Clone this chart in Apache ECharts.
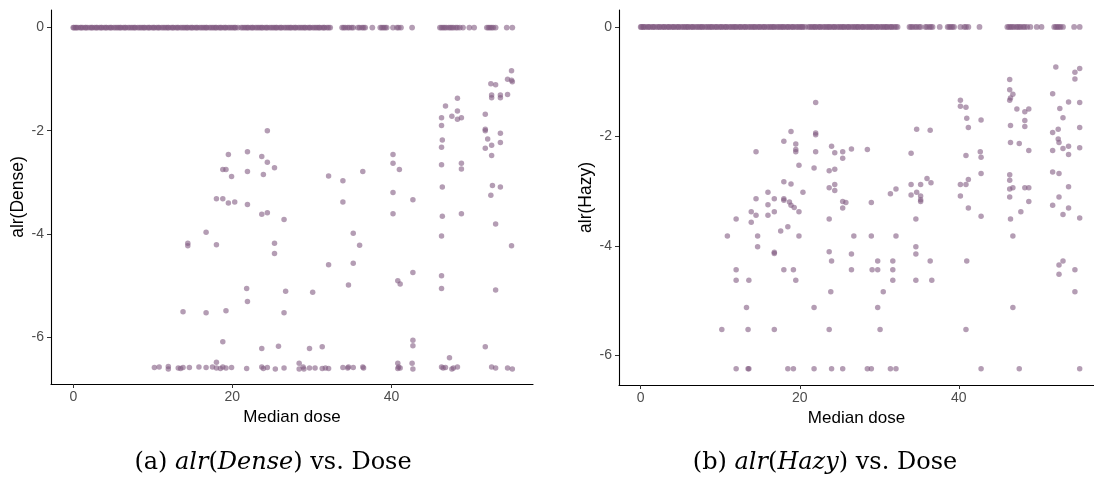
<!DOCTYPE html>
<html><head><meta charset="utf-8">
<script src="https://cdn.jsdelivr.net/npm/echarts@6/dist/echarts.min.js"></script>
<style>html,body{margin:0;padding:0;background:#fff}#c{width:1094px;height:477px}</style>
</head><body><div id="c"></div>
<script>
// Doses of observations with alr = 0 (same in both panels)
const zeroDose = [0,0.1,0.3,0.4,0.6,0.9,1.0,1.2,1.5,1.6,1.8,2.1,2.3,2.4,2.7,2.9,3.0,3.3,3.5,3.6,3.9,4.1,4.2,4.5,4.7,4.8,5.1,5.3,5.5,5.7,5.9,6.0,6.3,6.5,6.6,6.9,7.1,7.3,7.5,7.7,7.8,8.1,8.3,8.5,8.7,8.9,9.0,9.3,9.5,9.6,9.9,10.1,10.2,10.5,10.7,10.8,11.1,11.3,11.5,11.7,11.9,12.0,12.3,12.5,12.6,12.9,13.1,13.2,13.5,13.7,13.9,14.1,14.3,14.4,14.7,14.9,15.0,15.3,15.5,15.6,15.9,16.1,16.3,16.5,16.7,16.8,17.1,17.3,17.5,17.7,17.9,18.0,18.3,18.5,18.6,18.9,19.1,19.2,19.5,19.7,19.9,20.1,20.3,20.4,20.7,21.1,21.3,21.5,21.7,21.9,22.0,22.3,22.5,22.6,22.9,23.1,23.3,23.5,23.7,23.8,24.1,24.3,24.4,24.7,24.9,25.1,25.3,25.5,25.6,25.9,26.1,26.2,26.5,26.7,26.9,27.1,27.3,27.4,27.7,27.9,28.0,28.3,28.5,28.7,28.9,29.1,29.2,29.5,29.7,29.8,30.1,30.3,30.5,30.7,30.9,31.0,31.3,31.5,31.6,31.9,32.1,32.3,33.8,34.0,34.2,34.5,34.7,35.0,35.2,35.8,36.0,36.3,36.5,36.7,37.6,38.6,38.8,39.0,39.2,39.4,40.2,40.7,40.9,41.2,42.6,46.1,46.3,46.5,46.7,46.9,47.2,47.4,47.6,47.8,48.1,48.3,48.6,49.0,49.8,50.4,52.0,52.2,52.4,52.6,52.8,53.1,54.5,55.2];

// Non-zero alr(Dense) observations: [dose, alr]
const densePoints = [
[24.4,-2.0],[19.5,-2.46],[21.9,-2.41],[23.7,-2.50],[24.4,-2.61],[25.3,-2.72],[18.8,-2.75],[19.2,-2.75],[19.9,-2.89],[21.9,-2.79],[23.9,-2.85],[18.0,-3.32],[18.8,-3.32],[19.5,-3.40],[20.3,-3.38],[21.9,-3.43],[23.7,-3.62],[24.4,-3.59],[16.7,-3.97],[14.4,-4.18],[14.4,-4.23],[18.0,-4.21],[25.3,-4.18],[25.3,-4.38],[21.8,-5.06],[21.9,-5.31],[13.8,-5.51],[16.7,-5.53],[19.2,-5.49],[18.8,-6.09],[23.7,-6.22],[25.8,-6.18],[18.0,-6.49],
[10.2,-6.59],[10.8,-6.58],[11.95,-6.57],[11.95,-6.62],[13.2,-6.60],[13.5,-6.61],[13.8,-6.59],[14.6,-6.59],[15.8,-6.58],[16.7,-6.59],[17.5,-6.58],[18.0,-6.60],[18.5,-6.61],[18.8,-6.58],[19.2,-6.60],[19.9,-6.59],[21.8,-6.61],[23.7,-6.58],[23.9,-6.61],[24.4,-6.59],[25.4,-6.62],
[40.2,-3.20],[52.5,-3.25],[33.9,-3.38],[42.7,-3.34],[40.2,-3.61],[46.4,-3.66],[48.8,-3.61],[26.5,-3.72],[53.1,-3.81],[35.2,-3.99],[36.0,-4.22],[46.3,-4.04],[55.1,-4.23],[32.1,-4.60],[35.2,-4.57],[42.7,-4.75],[40.8,-4.91],[41.1,-4.97],[46.3,-4.81],[46.3,-5.06],[34.6,-4.99],[53.1,-5.09],[26.7,-5.11],[30.1,-5.13],[26.5,-5.53],[29.7,-6.22],[31.3,-6.19],[42.7,-6.06],[42.7,-6.17],[47.3,-6.40],[51.8,-6.19],
[26.5,-6.60],[28.4,-6.51],[28.4,-6.62],[28.9,-6.58],[29.0,-6.62],[29.7,-6.60],[30.4,-6.60],[31.3,-6.61],[31.7,-6.60],[32.1,-6.61],[33.9,-6.59],[34.5,-6.60],[34.6,-6.58],[35.2,-6.59],[36.4,-6.58],[36.5,-6.60],[40.8,-6.51],[40.9,-6.58],[41.1,-6.60],[40.8,-6.61],[42.6,-6.51],[42.7,-6.62],[46.3,-6.58],[46.5,-6.60],[46.8,-6.59],[47.6,-6.62],[47.8,-6.60],[48.3,-6.58],[52.6,-6.58],[53.1,-6.60],[54.6,-6.60],[55.2,-6.62],
[55.1,-0.84],[54.6,-1.0],[55.1,-1.02],[55.2,-1.05],[52.5,-1.09],[53.1,-1.11],[52.6,-1.31],[52.6,-1.36],[53.7,-1.31],[53.7,-1.36],[54.6,-1.30],[48.3,-1.37],[46.8,-1.52],[48.3,-1.62],[47.6,-1.72],[48.8,-1.75],[48.3,-1.78],[46.3,-1.75],[46.3,-1.90],[51.8,-1.68],[51.8,-1.97],[51.8,-2.0],[52.1,-2.16],[53.7,-2.05],[52.6,-2.28],[53.7,-2.23],[51.8,-2.34],[52.6,-2.48],[46.4,-2.18],[46.3,-2.32],[40.2,-2.46],[40.2,-2.63],[41.0,-2.75],[46.3,-2.66],[48.8,-2.63],[48.8,-2.74],[32.1,-2.88],[33.9,-2.97],[36.4,-2.79],[46.4,-3.09],[52.7,-3.06],[53.7,-3.09]
];

// Non-zero alr(Hazy) observations: [dose, alr]
const hazyPoints = [
[22.0,-1.38],[18.9,-1.91],[18.0,-2.09],[19.5,-2.14],[19.5,-2.24],[19.5,-2.28],[22.0,-1.94],[22.0,-1.97],[22.0,-2.28],[24.0,-2.18],[24.4,-2.30],[14.5,-2.28],[19.9,-2.53],[21.8,-2.58],[23.7,-2.63],[24.4,-2.60],[18.0,-2.83],[18.9,-2.87],[20.4,-3.02],[23.7,-2.94],[24.4,-2.88],[24.4,-2.99],[16.0,-3.02],[14.5,-3.14],[16.8,-3.14],[18.0,-3.14],
[18.0,-3.17],[18.7,-3.20],[18.9,-3.26],[19.3,-3.30],[19.9,-3.38],[13.9,-3.38],[14.5,-3.44],[16.0,-3.44],[16.8,-3.38],[16.0,-3.25],[12.0,-3.51],[13.9,-3.57],[10.9,-3.82],[14.7,-3.82],[14.7,-4.02],[17.6,-3.73],[18.5,-3.65],[19.9,-3.82],[16.8,-4.12],[16.8,-4.14],[12.0,-4.44],[18.0,-4.44],[19.2,-4.44],[12.0,-4.63],[13.6,-4.63],[19.5,-4.63],[13.3,-5.13],[21.8,-5.13],[10.2,-5.53],[13.5,-5.53],[16.8,-5.53],[23.7,-5.53],[23.7,-3.51],[23.7,-4.11],[24.0,-4.28],[23.9,-4.84],
[12.0,-6.25],[13.5,-6.25],[13.6,-6.25],[18.5,-6.25],[19.2,-6.25],[21.8,-6.25],[24.0,-6.25],
[31.4,-3.05],[34.0,-3.07],[34.7,-3.02],[35.2,-3.09],[35.2,-3.16],[35.2,-3.19],[25.4,-3.19],[25.8,-3.21],[25.4,-3.31],[29.0,-3.21],[34.6,-3.51],[40.2,-3.09],[41.2,-3.31],[42.8,-3.46],[46.4,-3.11],[48.8,-3.19],[47.8,-3.38],[46.5,-3.51],[52.6,-3.11],[51.8,-3.26],[53.8,-3.31],[53.1,-3.43],[55.2,-3.49],[26.8,-3.82],[29.0,-3.82],[32.1,-3.82],[46.8,-3.82],[26.5,-4.15],[34.6,-4.02],[34.6,-4.15],[29.8,-4.28],[31.7,-4.28],[36.4,-4.28],[41.0,-4.28],[26.5,-4.44],[29.1,-4.44],[29.8,-4.44],[31.7,-4.44],[31.7,-4.63],[34.6,-4.63],[36.6,-4.63],[52.6,-4.35],[53.1,-4.28],[52.6,-4.52],[54.6,-4.44],[30.5,-4.84],[54.6,-4.84],[29.8,-5.13],[46.8,-5.13],[30.1,-5.53],[40.9,-5.53],
[25.4,-6.25],[28.5,-6.25],[29.0,-6.25],[31.4,-6.25],[32.1,-6.25],[42.8,-6.25],[47.6,-6.25],[55.2,-6.25],
[52.2,-0.73],[54.6,-0.83],[55.2,-0.76],[54.6,-0.95],[46.4,-0.96],[46.4,-1.15],[46.8,-1.23],[46.5,-1.30],[46.4,-1.34],[51.8,-1.22],[53.8,-1.37],[55.2,-1.38],[52.7,-1.49],[53.1,-1.66],[55.2,-1.84],[52.5,-1.87],[51.8,-1.93],[52.5,-2.05],[52.6,-2.11],[53.8,-2.18],[53.1,-2.22],[55.2,-2.21],[51.8,-2.26],[53.8,-2.33],[51.8,-2.65],[52.6,-2.68],[53.8,-2.92],[40.2,-1.34],[40.2,-1.45],[40.9,-1.47],[41.0,-1.67],[41.2,-1.84],[42.8,-1.70],[40.9,-2.35],[42.7,-2.28],[42.8,-2.38],[42.8,-2.68],[41.2,-2.79],[40.2,-2.88],[40.9,-2.88],[47.3,-1.50],[48.3,-1.55],[48.8,-1.50],[48.3,-1.71],[48.3,-1.82],[46.5,-1.80],[46.5,-2.11],[47.6,-2.13],[48.8,-2.26],[46.4,-2.70],[46.4,-2.80],[46.4,-2.96],[46.8,-2.94],[48.3,-2.94],[48.8,-2.94],[34.7,-1.87],[36.4,-1.89],[34.0,-2.31],[36.0,-2.77],[36.5,-2.85],[34.0,-2.88],[35.2,-2.88],[25.4,-2.28],[25.4,-2.40],[26.5,-2.23],[28.5,-2.24],[32.1,-2.96]
];

const xTicks = [0, 20, 40];
const yTicks = [0, -2, -4, -6];

const zeroPoints = zeroDose.map(d => [d, 0]);
const ptColor = 'rgba(128,90,128,0.74)';
const sans = 'Liberation Sans, Arial, sans-serif';
const labelBase = {color:'#4d4d4d', fontSize:14, fontFamily:sans};

function xAxisCfg(idx, min, max) {
  return {
    type:'value', gridIndex: idx, min: min, max: max,
    name: 'Median dose', nameLocation:'middle', nameGap: 25,
    nameTextStyle:{color:'#000', fontSize:17, fontFamily:sans},
    axisLine:{show:true, onZero:false, lineStyle:{color:'#000', width:1.1}},
    axisTick:{show:true, length:4, lineStyle:{color:'#333'}, customValues: xTicks},
    axisLabel:Object.assign({}, labelBase, {customValues: xTicks, margin:6}),
    splitLine:{show:false}
  };
}
function yAxisCfg(idx, min, max, name) {
  return {
    type:'value', gridIndex: idx, min: min, max: max,
    name: name, nameLocation:'middle', nameGap: 22, nameRotate: 90,
    nameTextStyle:{color:'#000', fontSize:17.5, fontFamily:sans},
    axisLine:{show:true, onZero:false, lineStyle:{color:'#000', width:1.1}},
    axisTick:{show:true, length:4, lineStyle:{color:'#333'}, customValues: yTicks},
    axisLabel:Object.assign({}, labelBase, {customValues: yTicks, margin:7}),
    splitLine:{show:false}
  };
}

const chart = echarts.init(document.getElementById('c'));
const capFont = {fontFamily:'DejaVu Serif, serif', fontSize:24, fill:'#000'};
const capRich = {i:{fontStyle:'italic', fontFamily:'DejaVu Serif, serif', fontSize:24}};
chart.setOption({
  animation:false,
  backgroundColor:'#fff',
  grid:[
    {left:51, top:10, width:482, height:374},
    {left:619, top:10, width:475, height:375}
  ],
  xAxis:[xAxisCfg(0, -2.8, 57.8), xAxisCfg(1, -2.73, 57.0)],
  yAxis:[yAxisCfg(0, -6.91, 0.34, 'alr(Dense)'), yAxisCfg(1, -6.545, 0.31, 'alr(Hazy)')],
  series:[
    {type:'scatter', xAxisIndex:0, yAxisIndex:0, data:zeroPoints, symbolSize:5.8, itemStyle:{color:ptColor}, silent:true},
    {type:'scatter', xAxisIndex:0, yAxisIndex:0, data:densePoints, symbolSize:5.5, itemStyle:{color:ptColor}, silent:true},
    {type:'scatter', xAxisIndex:1, yAxisIndex:1, data:zeroPoints, symbolSize:5.8, itemStyle:{color:ptColor}, silent:true},
    {type:'scatter', xAxisIndex:1, yAxisIndex:1, data:hazyPoints, symbolSize:5.5, itemStyle:{color:ptColor}, silent:true}
  ],
  graphic:[
    {type:'text', x:273, y:463, style:Object.assign({}, capFont, {
      text:'(a) {i|alr}({i|Dense}) vs. Dose', align:'center', verticalAlign:'middle', rich:capRich})},
    {type:'text', x:825, y:463, style:Object.assign({}, capFont, {
      text:'(b) {i|alr}({i|Hazy}) vs. Dose', align:'center', verticalAlign:'middle', rich:capRich})}
  ]
});
</script></body></html>
